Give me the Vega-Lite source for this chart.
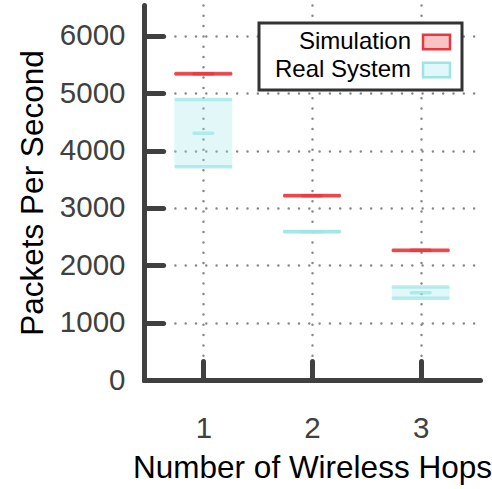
{
  "$schema": "https://vega.github.io/schema/vega-lite/v6.json",
  "autosize": {"type": "none"},
  "padding": {"left": 144, "top": 5, "right": 12, "bottom": 109},
  "width": 336,
  "height": 375,
  "background": "white",
  "config": {
    "font": "Liberation Sans",
    "view": {"stroke": null},
    "axis": {
      "domainColor": "#404040",
      "domainWidth": 5,
      "domainCap": "round",
      "tickColor": "#404040",
      "tickWidth": 5,
      "tickCap": "round",
      "tickSize": -19,
      "labelColor": "#404040",
      "labelFontSize": 29.5,
      "labelFont": "Liberation Sans",
      "titleFont": "Liberation Sans",
      "titleFontSize": 31.5,
      "titleFontWeight": "normal",
      "titleColor": "#000000",
      "gridColor": "#888888",
      "gridWidth": 2.5,
      "gridDash": [0, 10.3],
      "gridCap": "round",
      "gridOpacity": 1
    }
  },
  "data": {
    "values": [
      {"hops": 1, "series": "Simulation", "lo": 5335, "mid": 5340, "hi": 5345},
      {"hops": 2, "series": "Simulation", "lo": 3212, "mid": 3215, "hi": 3218},
      {"hops": 3, "series": "Simulation", "lo": 2259, "mid": 2262, "hi": 2265},
      {"hops": 1, "series": "Real System", "lo": 3721, "mid": 4302, "hi": 4890},
      {"hops": 2, "series": "Real System", "lo": 2585, "mid": 2587, "hi": 2589},
      {"hops": 3, "series": "Real System", "lo": 1425, "mid": 1523, "hi": 1622}
    ]
  },
  "encoding": {
    "x": {
      "field": "hops", "type": "quantitative",
      "scale": {"domain": [0.5, 3.5], "nice": false, "zero": false},
      "axis": {"values": [1, 2, 3], "format": "d", "labelPadding": 53, "titlePadding": 10, "title": "Number of Wireless Hops", "grid": true}
    },
    "color": {
      "field": "series", "type": "nominal",
      "scale": {"domain": ["Simulation", "Real System"], "range": ["#e8383d", "#9ae6e7"]},
      "legend": {
        "title": null,
        "orient": "top-right",
        "offset": 18,
        "padding": 7,
        "fillColor": "white",
        "strokeColor": "#333333",
        "labelFontSize": 24,
        "labelColor": "#000000",
        "labelFont": "Liberation Sans",
        "labelAlign": "right",
        "labelOffset": -37.5,
        "symbolOffset": 158.5,
        "symbolType": "M-1.5,-0.8H1.5V0.8H-1.5Z",
        "symbolSize": 324,
        "symbolOpacity": 1,
        "symbolStrokeWidth": 2.5,
        "rowPadding": 2,
        "encode": {
          "legend": {
            "update": {
              "strokeWidth": {"value": 3}
            }
          },
          "symbols": {
            "update": {
              "fillOpacity": {"value": 0.3},
              "stroke": {"signal": "scale('color', datum.value)"},
              "strokeOpacity": {"value": 1}
            }
          }
        }
      }
    }
  },
  "layer": [
    {
      "mark": {"type": "bar", "size": 58, "fillOpacity": 0.3},
      "encoding": {
        "y": {
          "field": "lo", "type": "quantitative",
          "scale": {"domain": [0, 6540], "nice": false},
          "axis": {"values": [0, 1000, 2000, 3000, 4000, 5000, 6000], "format": "d", "labelPadding": 38, "title": "Packets Per Second", "titlePadding": 10, "grid": true}
        },
        "y2": {"field": "hi"}
      }
    },
    {
      "mark": {"type": "tick", "orient": "horizontal", "size": 58, "thickness": 3.5, "cornerRadius": 1.5},
      "encoding": {"y": {"field": "lo", "type": "quantitative"}}
    },
    {
      "mark": {"type": "tick", "orient": "horizontal", "size": 58, "thickness": 3.5, "cornerRadius": 1.5},
      "encoding": {"y": {"field": "hi", "type": "quantitative"}}
    },
    {
      "mark": {"type": "tick", "orient": "horizontal", "size": 22, "thickness": 3.5, "cornerRadius": 1.5},
      "encoding": {"y": {"field": "mid", "type": "quantitative"}}
    }
  ]
}
